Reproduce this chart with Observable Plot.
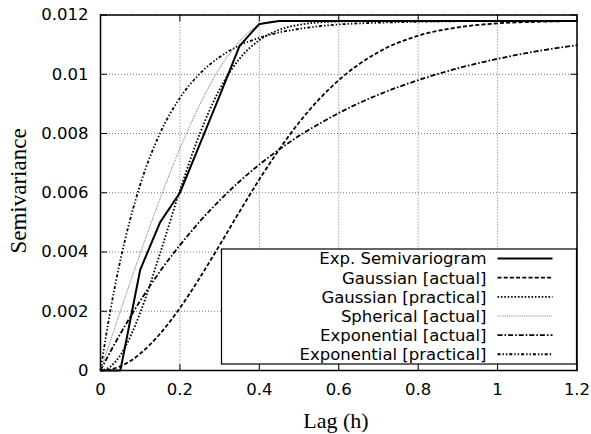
<!DOCTYPE html>
<html>
<head>
<meta charset="utf-8">
<script src="https://cdn.jsdelivr.net/npm/d3@7"></script>
<script src="https://cdn.jsdelivr.net/npm/@observablehq/plot@0.6"></script>
<style>
  html, body { margin: 0; padding: 0; background: #fff; }
</style>
</head>
<body>
<div id="chart"></div>
<script>
// ---------- data ----------
const xTicks = [0, 0.2, 0.4, 0.6, 0.8, 1.0, 1.2];
const xTickLabels = ["0", "0.2", "0.4", "0.6", "0.8", "1", "1.2"];
const yTicks = [0, 0.002, 0.004, 0.006, 0.008, 0.010, 0.012];
const yTickLabels = ["0", "0.002", "0.004", "0.006", "0.008", "0.01", "0.012"];

// experimental semivariogram (lag bins)
const expLag   = [0, 0.05, 0.1, 0.15, 0.2, 0.25, 0.3, 0.35, 0.4, 0.45, 0.5, 0.6, 0.7, 0.8, 0.9, 1.0, 1.1, 1.2];
const expGamma = [0, 0, 0.0034, 0.005, 0.006, 0.00763, 0.00927, 0.01095, 0.0117, 0.0118, 0.0118, 0.0118, 0.0118, 0.0118, 0.0118, 0.0118, 0.0118, 0.0118];

// fitted models, sampled at these lags
const modelLag = [0, 0.025, 0.05, 0.075, 0.1, 0.15, 0.2, 0.25, 0.3, 0.35, 0.4, 0.45, 0.5, 0.55, 0.6, 0.7, 0.8, 0.9, 1.0, 1.1, 1.2];
const gaussianActual    = [0, 0.00004, 0.00014, 0.00032, 0.00057, 0.00124, 0.00211, 0.00313, 0.00423, 0.00536, 0.00645, 0.00746, 0.00837, 0.00915, 0.0098, 0.01075, 0.0113, 0.01158, 0.01172, 0.01177, 0.0118];
const gaussianPractical = [0, 0.00013, 0.00052, 0.00114, 0.00195, 0.00395, 0.00608, 0.00799, 0.00949, 0.01052, 0.01115, 0.0115, 0.01167, 0.01175, 0.01178, 0.0118, 0.0118, 0.0118, 0.0118, 0.0118, 0.0118];
const sphericalActual   = [0, 0.001, 0.002, 0.00299, 0.00395, 0.0058, 0.00749, 0.00897, 0.0102, 0.01111, 0.01166, 0.0118, 0.0118, 0.0118, 0.0118, 0.0118, 0.0118, 0.0118, 0.0118, 0.0118, 0.0118];
const exponentialActual = [0, 0.00064, 0.00124, 0.00181, 0.00235, 0.00335, 0.00423, 0.00503, 0.00574, 0.00638, 0.00695, 0.00746, 0.00792, 0.00832, 0.00869, 0.00931, 0.0098, 0.0102, 0.01052, 0.01078, 0.01098];
const exponentialPractical = [0, 0.00203, 0.00372, 0.00511, 0.00627, 0.00801, 0.0092, 0.01002, 0.01058, 0.01097, 0.01123, 0.01141, 0.01153, 0.01162, 0.01168, 0.01174, 0.01177, 0.01179, 0.0118, 0.0118, 0.0118];

const seriesNames = ["Exp. Semivariogram", "Gaussian [actual]", "Gaussian [practical]", "Spherical [actual]", "Exponential [actual]", "Exponential [practical]"];

// ---------- styles ----------
const styles = {
  "Exp. Semivariogram":      {stroke: "#000", strokeWidth: 2,   dash: null,            curve: "linear"},
  "Gaussian [actual]":       {stroke: "#000", strokeWidth: 1.8, dash: "4,2.2",         curve: "monotone-x"},
  "Gaussian [practical]":    {stroke: "#000", strokeWidth: 1.8, dash: "1.6,1.8",       curve: "monotone-x"},
  "Spherical [actual]":      {stroke: "#888", strokeWidth: 1.1, dash: "1,0.9",         curve: "monotone-x"},
  "Exponential [actual]":    {stroke: "#000", strokeWidth: 1.8, dash: "5,2,1.6,2",     curve: "monotone-x"},
  "Exponential [practical]": {stroke: "#000", strokeWidth: 1.8, dash: "3,2,1.4,2,1.4,2", curve: "monotone-x"}
};

// ---------- build tables ----------
const tables = {
  "Exp. Semivariogram": expLag.map((x, i) => ({lag: x, gamma: expGamma[i]})),
  "Gaussian [actual]": modelLag.map((x, i) => ({lag: x, gamma: gaussianActual[i]})),
  "Gaussian [practical]": modelLag.map((x, i) => ({lag: x, gamma: gaussianPractical[i]})),
  "Spherical [actual]": modelLag.map((x, i) => ({lag: x, gamma: sphericalActual[i]})),
  "Exponential [actual]": modelLag.map((x, i) => ({lag: x, gamma: exponentialActual[i]})),
  "Exponential [practical]": modelLag.map((x, i) => ({lag: x, gamma: exponentialPractical[i]}))
};

const W = 591, H = 434;
const mL = 100, mR = 14.5, mT = 14.5, mB = 64;
const sans = "DejaVu Sans";
const serif = "Liberation Serif";
const tickShape = {draw(ctx, l) { ctx.moveTo(0, 0); ctx.lineTo(0, -l); }};
const tickLen = 6;

const lineMarks = seriesNames.slice().reverse().map(name => {
  const s = styles[name];
  return Plot.line(tables[name], {
    x: "lag", y: "gamma", stroke: s.stroke, strokeWidth: s.strokeWidth,
    strokeDasharray: s.dash, curve: s.curve, strokeLinecap: "butt"
  });
});

const chart = Plot.plot({
  width: W, height: H,
  marginLeft: mL, marginRight: mR, marginTop: mT, marginBottom: mB,
  style: {fontFamily: sans, fontSize: "16.5px", background: "#fff", color: "#000"},
  x: {domain: [0, 1.2]},
  y: {domain: [0, 0.012]},
  marks: [
    Plot.gridX(xTicks, {stroke: "#666", strokeOpacity: 1, strokeWidth: 0.9, strokeDasharray: "1,2"}),
    Plot.gridY(yTicks, {stroke: "#666", strokeOpacity: 1, strokeWidth: 0.9, strokeDasharray: "1,2"}),
    ...lineMarks,
    Plot.axisX(xTicks, {tickSize: 0, tickPadding: 13, tickFormat: (d, i) => xTickLabels[i], label: null, fontSize: 16.5, fontFamily: sans}),
    Plot.axisY(yTicks, {tickSize: 0, tickPadding: 12, tickFormat: (d, i) => yTickLabels[i], label: null, fontSize: 16.5, fontFamily: sans}),
    // inward tick marks on all four sides
    Plot.vector(xTicks, {x: d => d, y: 0, length: tickLen, rotate: 0, anchor: "start", shape: tickShape, stroke: "#000", strokeWidth: 1}),
    Plot.vector(xTicks, {x: d => d, y: 0.012, length: tickLen, rotate: 180, anchor: "start", shape: tickShape, stroke: "#000", strokeWidth: 1}),
    Plot.vector(yTicks, {x: 0, y: d => d, length: tickLen, rotate: 90, anchor: "start", shape: tickShape, stroke: "#000", strokeWidth: 1}),
    Plot.vector(yTicks, {x: 1.2, y: d => d, length: tickLen, rotate: -90, anchor: "start", shape: tickShape, stroke: "#000", strokeWidth: 1}),
    Plot.frame({stroke: "#000", strokeWidth: 1.5})
  ]
});

document.getElementById("chart").appendChild(chart);

// ---------- legend (inside the frame, lower right) ----------
const svg = d3.select(chart);
const boxRight = W - mR;
const boxBottom = H - mB - tickLen;
const boxW = 355, boxH = 115;
const boxLeft = boxRight - boxW, boxTop = boxBottom - boxH;
const lg = svg.append("g");
lg.append("rect")
  .attr("x", boxLeft).attr("y", boxTop).attr("width", boxW).attr("height", boxH)
  .attr("fill", "#fff").attr("stroke", "#000").attr("stroke-width", 1.2);
const rowStep = 19.15;
seriesNames.forEach((name, i) => {
  const s = styles[name];
  const cy = boxTop + 9.5 + i * rowStep;
  lg.append("text")
    .attr("x", boxRight - 90).attr("y", cy).attr("dy", "0.36em")
    .attr("text-anchor", "end")
    .attr("font-family", sans).attr("font-size", 16.5).attr("fill", "#000")
    .text(name);
  lg.append("line")
    .attr("x1", boxRight - 79).attr("x2", boxRight - 24)
    .attr("y1", cy).attr("y2", cy)
    .attr("stroke", s.stroke).attr("stroke-width", s.strokeWidth)
    .attr("stroke-dasharray", s.dash);
});

// ---------- axis titles ----------
svg.append("text")
  .attr("transform", `translate(26,191) rotate(-90)`)
  .attr("text-anchor", "middle")
  .attr("font-family", serif).attr("font-size", 23).attr("fill", "#000")
  .text("Semivariance");
svg.append("text")
  .attr("x", 336).attr("y", 428)
  .attr("text-anchor", "middle")
  .attr("font-family", serif).attr("font-size", 22).attr("fill", "#000")
  .text("Lag (h)");
</script>
</body>
</html>
